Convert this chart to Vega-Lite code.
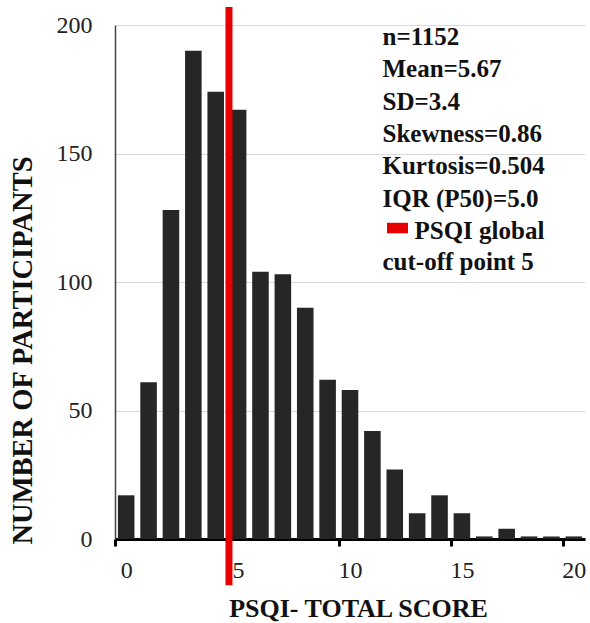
{
  "$schema": "https://vega.github.io/schema/vega-lite/v6.json",
  "width": 470,
  "height": 514,
  "autosize": "none",
  "padding": {"left": 115, "top": 25, "right": 5, "bottom": 84},
  "config": {"view": {"stroke": null}, "font": "Liberation Serif"},
  "layer": [
    {
      "data": {"values": [
        {"score": 0, "count": 17},
        {"score": 1, "count": 61},
        {"score": 2, "count": 128},
        {"score": 3, "count": 190},
        {"score": 4, "count": 174},
        {"score": 5, "count": 167},
        {"score": 6, "count": 104},
        {"score": 7, "count": 103},
        {"score": 8, "count": 90},
        {"score": 9, "count": 62},
        {"score": 10, "count": 58},
        {"score": 11, "count": 42},
        {"score": 12, "count": 27},
        {"score": 13, "count": 10},
        {"score": 14, "count": 17},
        {"score": 15, "count": 10},
        {"score": 16, "count": 1},
        {"score": 17, "count": 4},
        {"score": 18, "count": 1},
        {"score": 19, "count": 1},
        {"score": 20, "count": 1}
      ]},
      "mark": {"type": "bar", "color": "#262626"},
      "encoding": {
        "x": {
          "field": "score", "type": "ordinal",
          "scale": {"paddingInner": 0.26, "paddingOuter": 0.13},
          "axis": {
            "values": [0, 5, 10, 15, 20], "labelAngle": 0, "tickOffset": -11.19, "labelOffset": 11.19,
            "title": "PSQI- TOTAL SCORE", "titleFontSize": 26, "titleFontWeight": "bold",
            "titleColor": "#111", "titlePadding": 13, "titleX": 243,
            "labelFontSize": 24, "labelColor": "#222", "labelPadding": 12,
            "domainColor": "#000", "domainWidth": 3, "tickColor": "#000", "tickWidth": 3, "tickSize": 7,
            "grid": false
          }
        },
        "y": {
          "field": "count", "type": "quantitative",
          "scale": {"domain": [0, 200], "nice": false},
          "axis": {
            "values": [0, 50, 100, 150, 200],
            "title": "NUMBER OF PARTICIPANTS", "titleFontSize": 28.5, "titleFontWeight": "bold",
            "titleColor": "#111", "titlePadding": 19, "titleY": 325,
            "labelFontSize": 24, "labelColor": "#222", "labelPadding": 23,
            "ticks": false, "tickSize": 0, "domainColor": "#444", "domainWidth": 1.5,
            "grid": true, "gridColor": "#d9d9d9", "gridWidth": 1.2
          }
        }
      }
    },
    {
      "data": {"values": [{}]},
      "mark": {"type": "rule", "color": "#e60000", "strokeWidth": 7},
      "encoding": {
        "x": {"datum": 5, "type": "ordinal", "bandPosition": -0.05},
        "y": {"datum": 207, "type": "quantitative"},
        "y2": {"datum": -18}
      }
    },
    {
      "data": {"values": [{}]},
      "mark": {
        "type": "text", "align": "left", "baseline": "top", "fontSize": 25, "fontWeight": "bold",
        "color": "#111", "lineHeight": 32.3, "xOffset": -4,
        "text": ["n=1152", "Mean=5.67", "SD=3.4", "Skewness=0.86", "Kurtosis=0.504", "IQR (P50)=5.0"]
      },
      "encoding": {
        "x": {"datum": 12, "type": "ordinal", "bandPosition": 0},
        "y": {"datum": 200, "type": "quantitative"}
      }
    },
    {
      "data": {"values": [{}]},
      "mark": {
        "type": "text", "align": "left", "baseline": "top", "fontSize": 25, "fontWeight": "bold",
        "color": "#111", "xOffset": -4, "text": "cut-off point 5"
      },
      "encoding": {
        "x": {"datum": 12, "type": "ordinal", "bandPosition": 0},
        "y": {"datum": 112.3, "type": "quantitative"}
      }
    },
    {
      "data": {"values": [{}]},
      "mark": {
        "type": "text", "align": "left", "baseline": "top", "fontSize": 25, "fontWeight": "bold",
        "color": "#111", "xOffset": 28, "text": "PSQI global"
      },
      "encoding": {
        "x": {"datum": 12, "type": "ordinal", "bandPosition": 0},
        "y": {"datum": 124.7, "type": "quantitative"}
      }
    },
    {
      "data": {"values": [{}]},
      "mark": {
        "type": "point", "shape": "M-1,-0.5H1V0.5H-1Z", "filled": true, "size": 441,
        "color": "#e60000", "opacity": 1, "xOffset": 11
      },
      "encoding": {
        "x": {"datum": 12, "type": "ordinal", "bandPosition": 0},
        "y": {"datum": 121, "type": "quantitative"}
      }
    }
  ]
}
